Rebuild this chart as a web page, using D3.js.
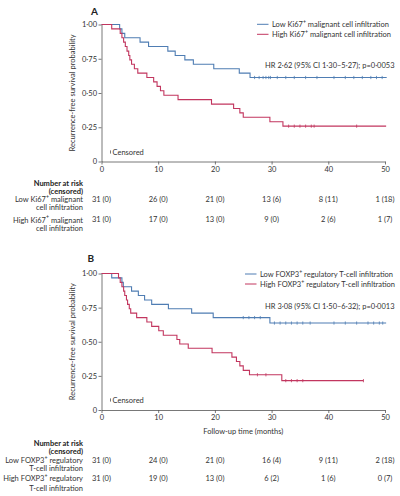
<!DOCTYPE html>
<html>
<head>
<meta charset="utf-8">
<script src="https://cdn.jsdelivr.net/npm/d3@7"></script>
<style>
    html, body { margin: 0; padding: 0; background: #fff; }
    svg { display: block; font-family: Lato, "Liberation Sans", sans-serif; }
    .axis path, .axis line { stroke: #555; stroke-width: 0.8; }
    .axis text { fill: #333; font-size: 7.5px; font-family: Lato, "Liberation Sans", sans-serif; }
    .label { fill: #333; font-size: 7.5px; }
    .table-head { fill: #222; font-size: 7.5px; font-weight: bold; }
    .panel-letter { fill: #222; font-size: 10px; font-weight: bold; }
    .curve { fill: none; stroke-width: 1.1; }
</style>
</head>
<body>
<div id="chart"></div>
<script>
// axis ticks
const timeTicks = [0, 10, 20, 30, 40, 50];
const survTicks = [0, 0.25, 0.5, 0.75, 1];
const survTickLabels = ['0', '0·25', '0·50', '0·75', '1·00'];

// panel A: Ki67 (step times in months, survival after each step)
const ki67LowTimes = [0, 3.2, 3.6, 4.1, 6.8, 8.3, 11.7, 13.0, 14.7, 16.2, 19.8, 24.3, 26.2];
const ki67LowSurv = [1, 0.968, 0.935, 0.903, 0.871, 0.839, 0.806, 0.774, 0.742, 0.710, 0.677, 0.645, 0.613];
const ki67LowCensored = [27.0, 27.8, 28.5, 29.0, 29.5, 29.8, 31.0, 32.5, 34.0, 36.0, 38.0, 41.0, 43.0, 44.5, 46.0, 47.5, 48.5, 49.5];
const ki67LowEnd = 50.3;

const ki67HighTimes = [0, 1.8, 3.3, 3.6, 3.9, 4.2, 4.5, 4.8, 5.0, 5.3, 5.8, 6.4, 8.0, 9.2, 9.8, 10.4, 11.0, 13.5, 19.4, 23.3, 24.4, 25.0, 29.7, 32.0];
const ki67HighSurv = [1, 0.968, 0.935, 0.903, 0.871, 0.839, 0.806, 0.774, 0.742, 0.710, 0.677, 0.645, 0.613, 0.581, 0.548, 0.516, 0.484, 0.452, 0.419, 0.387, 0.355, 0.323, 0.290, 0.258];
const ki67HighCensored = [33.0, 34.0, 35.0, 36.0, 37.0, 37.5, 45.0];
const ki67HighEnd = 50.2;

const ki67RiskLow = [31, 26, 21, 13, 8, 1];
const ki67CensLow = [0, 0, 0, 6, 11, 18];
const ki67RiskHigh = [31, 17, 13, 9, 2, 1];
const ki67CensHigh = [0, 0, 0, 0, 6, 7];

const ki67Legend = ['Low Ki67⁺ malignant cell infiltration', 'High Ki67⁺ malignant cell infiltration'];
const ki67RowLabels = [['Low Ki67⁺ malignant', 'cell infiltration'], ['High Ki67⁺ malignant', 'cell infiltration']];
const ki67Hr = 'HR 2·62 (95% CI 1·30–5·27); p=0·0053';

// panel B: FOXP3
const foxLowTimes = [0, 1.8, 3.6, 3.85, 5.3, 6.5, 7.6, 8.85, 11.8, 15.9, 19.7, 29.7];
const foxLowSurv = [1, 0.968, 0.935, 0.903, 0.871, 0.839, 0.806, 0.774, 0.742, 0.710, 0.677, 0.637];
const foxLowCensored = [25.0, 26.0, 27.0, 28.0, 30.5, 31.5, 32.5, 33.5, 34.5, 35.5, 36.8, 41.0, 43.0, 45.0, 47.0, 48.0, 49.0, 49.6];
const foxLowEnd = 50.2;

const foxHighTimes = [0, 3.0, 3.3, 3.6, 3.9, 4.1, 4.4, 4.6, 4.9, 5.15, 6.2, 8.0, 8.85, 10.1, 10.9, 13.3, 13.8, 15.3, 19.5, 23.0, 23.8, 24.4, 25.0, 26.1, 31.8];
const foxHighSurv = [1, 0.968, 0.935, 0.903, 0.871, 0.839, 0.806, 0.774, 0.742, 0.710, 0.677, 0.645, 0.613, 0.581, 0.548, 0.516, 0.484, 0.452, 0.419, 0.387, 0.355, 0.323, 0.290, 0.258, 0.215];
const foxHighCensored = [27.5, 29.0, 32.5, 33.5, 34.5, 35.5, 46.2];
const foxHighEnd = 46.2;

const foxRiskLow = [31, 24, 21, 16, 9, 2];
const foxCensLow = [0, 0, 0, 4, 11, 18];
const foxRiskHigh = [31, 19, 13, 6, 1, 0];
const foxCensHigh = [0, 0, 0, 2, 6, 7];

const foxLegend = ['Low FOXP3⁺ regulatory T-cell infiltration', 'High FOXP3⁺ regulatory T-cell infiltration'];
const foxRowLabels = [['Low FOXP3⁺ regulatory', 'T-cell infiltration'], ['High FOXP3⁺ regulatory', 'T-cell infiltration']];
const foxHr = 'HR 3·08 (95% CI 1·50–6·32); p=0·0013';

const colors = ['#4f7db3', '#c2365f'];

const width = 400;
const height = 496;

const svg = d3.select('#chart')
  .append('svg')
    .attr('width', width)
    .attr('height', height);

/**
 * Writes a string into a text element, raising every '⁺' as a small superscript plus
 */
function richText(textSel, str) {
    const parts = str.split('⁺');
    parts.forEach((part, i) => {
        if (i > 0) {
            textSel.append('tspan')
                .attr('dy', -2.3)
                .attr('font-size', '70%')
                .text('+');
        }
        textSel.append('tspan')
            .attr('dy', i > 0 ? 2.3 : 0)
            .text(part);
    });
}

/**
 * Draws one Kaplan-Meier panel with its legend and number-at-risk table
 */
function drawPanel(panel) {
    const g = svg.append('g');

    const x = d3.scaleLinear().domain([0, 50]).range([101.5, 385]);
    const y = d3.scaleLinear().domain([0, 1]).range([panel.bottom, panel.top]);

    // axes
    g.append('g')
        .attr('class', 'axis')
        .attr('transform', `translate(0,${panel.bottom})`)
        .call(d3.axisBottom(x).tickValues(timeTicks).tickSize(3).tickSizeOuter(0).tickPadding(2));

    g.append('g')
        .attr('class', 'axis')
        .attr('transform', `translate(${x(0)},0)`)
        .call(d3.axisLeft(y).tickValues(survTicks).tickSize(3).tickSizeOuter(0).tickPadding(1.5)
            .tickFormat((d, i) => survTickLabels[i]));

    g.append('text')
        .attr('class', 'label')
        .attr('transform', `translate(72,${(panel.top + panel.bottom) / 2}) rotate(-90)`)
        .attr('text-anchor', 'middle')
        .attr('dominant-baseline', 'central')
        .text('Recurrence-free survival probability');

    g.append('text')
        .attr('class', 'panel-letter')
        .attr('x', panel.letterX)
        .attr('y', panel.letterY)
        .text(panel.letter);

    // curves
    const line = d3.line()
        .x(d => x(d[0]))
        .y(d => y(d[1]))
        .curve(d3.curveStepAfter);

    panel.series.forEach((s, i) => {
        const pts = s.times.map((t, j) => [t, s.surv[j]]);
        pts.push([s.end, s.surv[s.surv.length - 1]]);

        g.append('path')
            .datum(pts)
            .attr('class', 'curve')
            .attr('stroke', colors[i])
            .attr('d', line);

        const survAt = t => s.surv[d3.bisectRight(s.times, t) - 1];
        g.selectAll(null)
            .data(s.censored)
            .enter()
          .append('line')
            .attr('x1', d => x(d))
            .attr('x2', d => x(d))
            .attr('y1', d => y(survAt(d)) - 1.6)
            .attr('y2', d => y(survAt(d)) + 1.6)
            .attr('stroke', colors[i])
            .attr('stroke-width', 0.8);

        // legend
        const ly = panel.legendY[i];
        g.append('line')
            .attr('x1', panel.legendX)
            .attr('x2', panel.legendX + 11.5)
            .attr('y1', ly)
            .attr('y2', ly)
            .attr('stroke', colors[i])
            .attr('stroke-width', 1);
        const lt = g.append('text')
            .attr('class', 'label')
            .attr('x', panel.legendX + 15)
            .attr('y', ly)
            .attr('dominant-baseline', 'central');
        richText(lt, s.legend);
    });

    g.append('text')
        .attr('class', 'label')
        .attr('x', 394.5)
        .attr('y', panel.hrY)
        .attr('text-anchor', 'end')
        .attr('dominant-baseline', 'central')
        .text(panel.hr);

    // censored key
    g.append('line')
        .attr('x1', 110.5).attr('x2', 110.5)
        .attr('y1', panel.censorY - 1.6).attr('y2', panel.censorY + 1.6)
        .attr('stroke', '#555')
        .attr('stroke-width', 0.8);
    g.append('text')
        .attr('class', 'label')
        .attr('x', 112.5)
        .attr('y', panel.censorY)
        .attr('dominant-baseline', 'central')
        .text('Censored');

    if (panel.xTitle) {
        g.append('text')
            .attr('class', 'label')
            .attr('x', (x(0) + x(50)) / 2)
            .attr('y', panel.xTitleY)
            .attr('text-anchor', 'middle')
            .attr('dominant-baseline', 'central')
            .text(panel.xTitle);
    }

    // number at risk table
    const ty = panel.tableY;
    g.append('text').attr('class', 'table-head')
        .attr('x', 83).attr('y', ty[0])
        .attr('text-anchor', 'end').attr('dominant-baseline', 'central')
        .text('Number at risk');
    g.append('text').attr('class', 'table-head')
        .attr('x', 83).attr('y', ty[1])
        .attr('text-anchor', 'end').attr('dominant-baseline', 'central')
        .text('(censored)');

    panel.series.forEach((s, i) => {
        s.rowLabel.forEach((txt, k) => {
            const t = g.append('text')
                .attr('class', 'label')
                .attr('x', 83)
                .attr('y', ty[2 + i * 2 + k])
                .attr('text-anchor', 'end')
                .attr('dominant-baseline', 'central');
            richText(t, txt);
        });

        g.selectAll(null)
            .data(timeTicks)
            .enter()
          .append('text')
            .attr('class', 'label')
            .attr('x', d => x(d))
            .attr('y', ty[2 + i * 2])
            .attr('text-anchor', 'middle')
            .attr('dominant-baseline', 'central')
            .text((d, j) => `${s.risk[j]} (${s.cens[j]})`);
    });
}

drawPanel({
    letter: 'A', letterX: 91, letterY: 14.5,
    top: 24.5, bottom: 161.5,
    legendX: 257, legendY: [24.3, 34.3],
    hr: ki67Hr, hrY: 65.7,
    censorY: 152,
    tableY: [183.3, 191.2, 199.4, 207.4, 219.5, 227.5],
    series: [
        { times: ki67LowTimes, surv: ki67LowSurv, censored: ki67LowCensored, end: ki67LowEnd,
          risk: ki67RiskLow, cens: ki67CensLow, legend: ki67Legend[0], rowLabel: ki67RowLabels[0] },
        { times: ki67HighTimes, surv: ki67HighSurv, censored: ki67HighCensored, end: ki67HighEnd,
          risk: ki67RiskHigh, cens: ki67CensHigh, legend: ki67Legend[1], rowLabel: ki67RowLabels[1] }
    ]
});

drawPanel({
    letter: 'B', letterX: 87.5, letterY: 262,
    top: 273.5, bottom: 410,
    legendX: 245, legendY: [274, 284],
    hr: foxHr, hrY: 306.7,
    censorY: 400,
    xTitle: 'Follow-up time (months)', xTitleY: 431.7,
    tableY: [443.3, 451.7, 460, 468.3, 478.3, 488.3],
    series: [
        { times: foxLowTimes, surv: foxLowSurv, censored: foxLowCensored, end: foxLowEnd,
          risk: foxRiskLow, cens: foxCensLow, legend: foxLegend[0], rowLabel: foxRowLabels[0] },
        { times: foxHighTimes, surv: foxHighSurv, censored: foxHighCensored, end: foxHighEnd,
          risk: foxRiskHigh, cens: foxCensHigh, legend: foxLegend[1], rowLabel: foxRowLabels[1] }
    ]
});
</script>
</body>
</html>
